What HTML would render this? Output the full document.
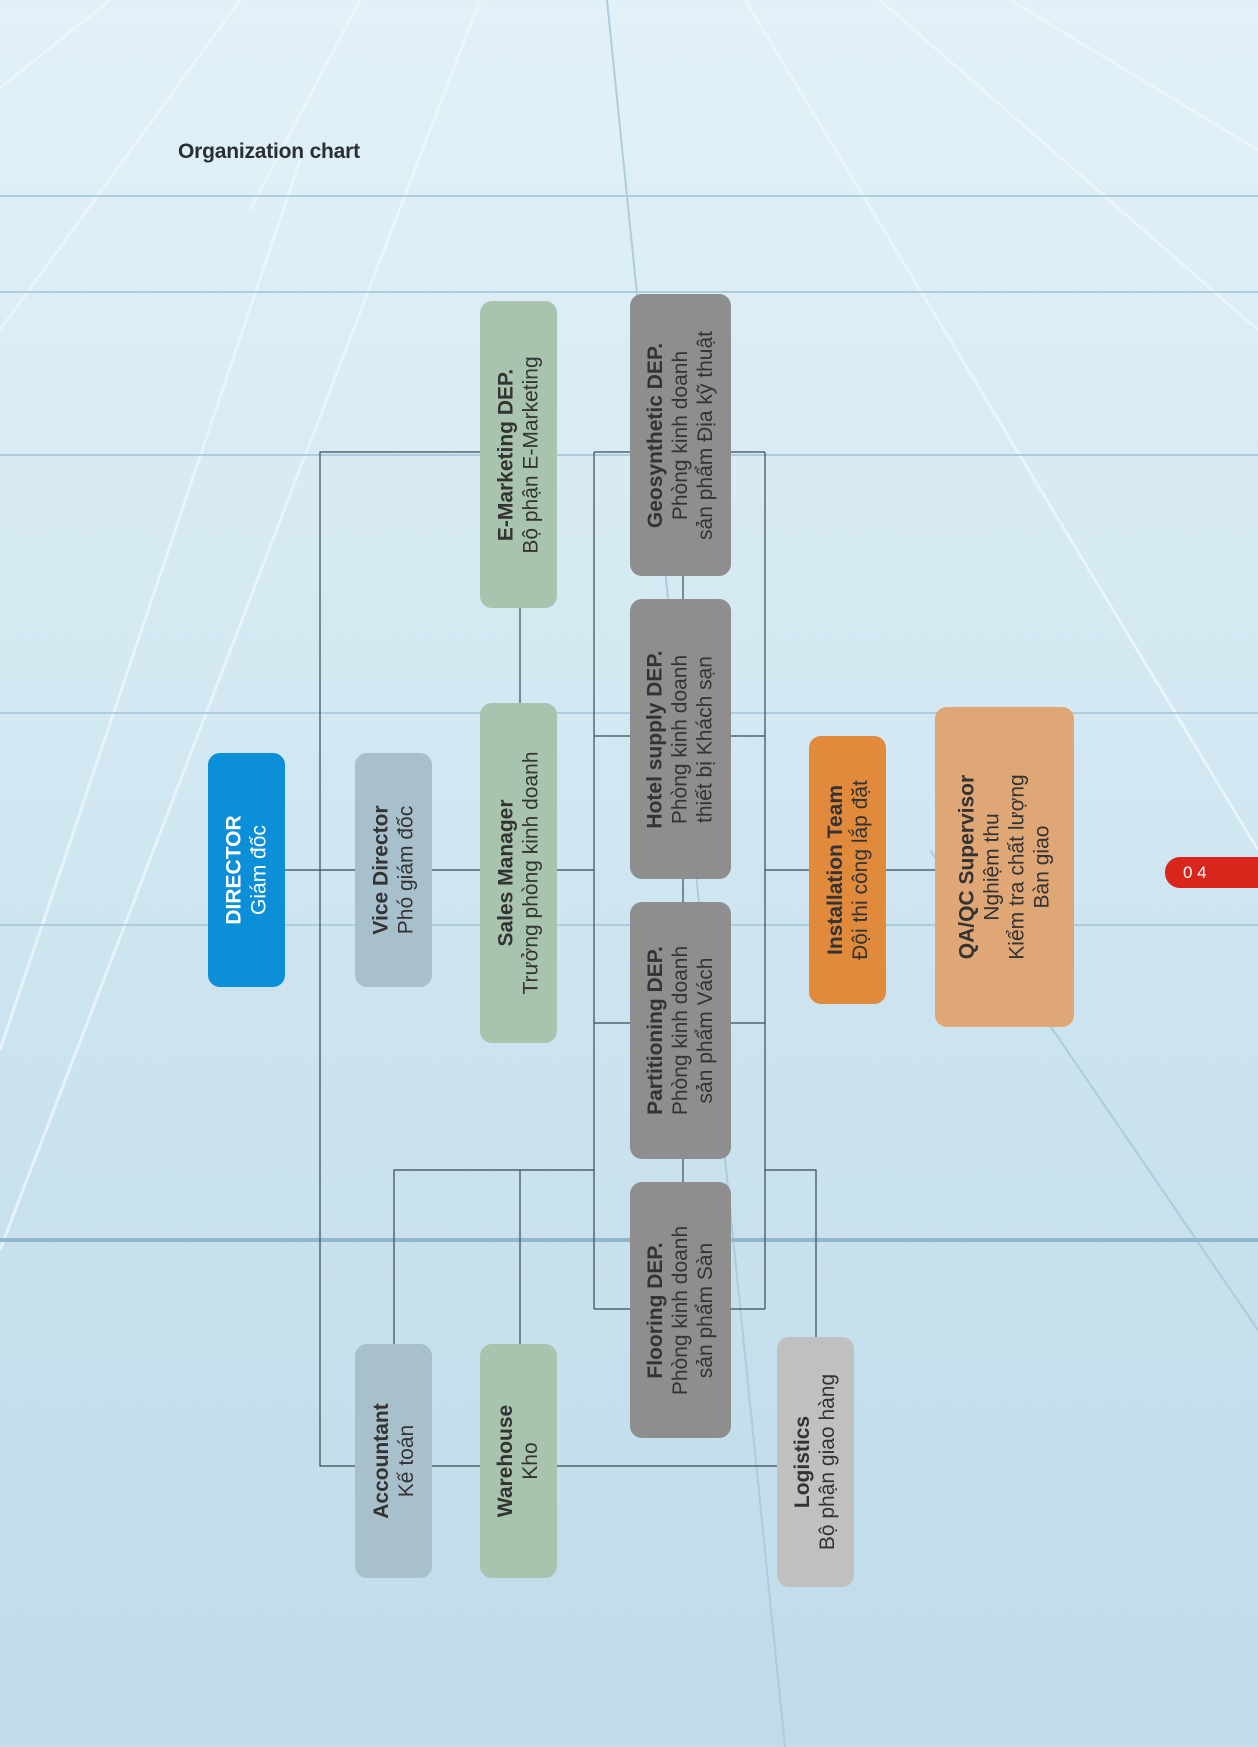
<!DOCTYPE html>
<html><head><meta charset="utf-8">
<style>
html,body{margin:0;padding:0}
body{width:1258px;height:1747px;position:relative;overflow:hidden;
background:linear-gradient(180deg,#e2f1f8 0%,#d3e8f2 40%,#c6e0ec 75%,#c0dcea 100%);
font-family:"Liberation Sans",sans-serif;}
svg.bg,svg.ln{position:absolute;left:0;top:0}
.b{position:absolute;border-radius:12px;display:flex;align-items:center;justify-content:center;color:#333}
.b span{display:block;transform:rotate(-90deg);white-space:nowrap;text-align:center;font-size:21px;line-height:25px}
.b b{font-weight:bold}
.title{position:absolute;left:178px;top:140px;font-size:21px;font-weight:bold;color:#2b2f33;letter-spacing:-0.2px}
.tab{position:absolute;left:1165px;top:857px;width:110px;height:31px;background:#d9261c;border-radius:15px 0 0 15px;color:#fff;font-size:17px;line-height:31px;padding-left:18px;box-sizing:border-box}
</style></head><body>
<svg class="bg" width="1258" height="1747">
<g stroke="#eef7fb" stroke-width="3" fill="none" opacity="0.8">
<line x1="110" y1="0" x2="-40" y2="120"/>
<line x1="240" y1="0" x2="0" y2="330"/>
<line x1="360" y1="0" x2="250" y2="210"/>
<line x1="480" y1="0" x2="0" y2="1250"/>
<line x1="745" y1="0" x2="1258" y2="850"/>
<line x1="880" y1="0" x2="1258" y2="330"/>
<line x1="1010" y1="0" x2="1258" y2="150"/>
<line x1="300" y1="160" x2="0" y2="1050"/>
</g>
<g stroke="#a9cadb" stroke-width="2" fill="none" opacity="0.9">
<line x1="0" y1="713" x2="1258" y2="713"/>
<line x1="0" y1="925" x2="1258" y2="925"/>
<line x1="0" y1="292" x2="1258" y2="292"/>
<line x1="0" y1="196" x2="1258" y2="196"/>
<line x1="0" y1="455" x2="1258" y2="455"/>
<line x1="607" y1="0" x2="785" y2="1747"/>
<line x1="930" y1="850" x2="1258" y2="1330"/>
</g>
<line x1="0" y1="1240" x2="1258" y2="1240" stroke="#8fb8cf" stroke-width="4"/>
</svg>
<div class="title">Organization chart</div>
<svg class="ln" width="1258" height="1747">
<g stroke="#3a4a52" stroke-width="1.2" fill="none">
<line x1="285" y1="870" x2="594" y2="870"/>
<line x1="765" y1="870" x2="935" y2="870"/>
<polyline points="480,452 320,452 320,1466 355,1466"/>
<line x1="432" y1="1466" x2="480" y2="1466"/>
<line x1="557" y1="1466" x2="777" y2="1466"/>
<line x1="520" y1="608" x2="520" y2="703"/>
<line x1="594" y1="452" x2="594" y2="1309"/>
<line x1="765" y1="452" x2="765" y2="1309"/>
<line x1="594" y1="452" x2="630" y2="452"/><line x1="594" y1="736" x2="630" y2="736"/>
<line x1="594" y1="1023" x2="630" y2="1023"/><line x1="594" y1="1309" x2="630" y2="1309"/>
<line x1="731" y1="452" x2="765" y2="452"/><line x1="731" y1="736" x2="765" y2="736"/>
<line x1="731" y1="1023" x2="765" y2="1023"/><line x1="731" y1="1309" x2="765" y2="1309"/>
<line x1="683" y1="576" x2="683" y2="599"/><line x1="683" y1="879" x2="683" y2="902"/>
<line x1="683" y1="1159" x2="683" y2="1182"/>
<polyline points="594,1170 394,1170 394,1344"/>
<line x1="520" y1="1170" x2="520" y2="1344"/>
<polyline points="765,1170 816,1170 816,1337"/>
</g></svg>

<div class="b" style="left:208px;top:753px;width:77px;height:234px;background:#0a8fd8;color:#fff"><span><b>DIRECTOR</b><br>Giám đốc</span></div>
<div class="b" style="left:355px;top:753px;width:77px;height:234px;background:#a8bfcc"><span><b>Vice Director</b><br>Phó giám đốc</span></div>
<div class="b" style="left:480px;top:703px;width:77px;height:340px;background:#a8c4ae"><span><b>Sales Manager</b><br>Trưởng phòng kinh doanh</span></div>
<div class="b" style="left:480px;top:301px;width:77px;height:307px;background:#a8c4ae"><span><b>E-Marketing DEP.</b><br>Bộ phận E-Marketing</span></div>
<div class="b" style="left:630px;top:294px;width:101px;height:282px;background:#8e8e8e"><span><b>Geosynthetic DEP.</b><br>Phòng kinh doanh<br>sản phẩm Địa kỹ thuật</span></div>
<div class="b" style="left:630px;top:599px;width:101px;height:280px;background:#8e8e8e"><span><b>Hotel supply DEP.</b><br>Phòng kinh doanh<br>thiết bị Khách sạn</span></div>
<div class="b" style="left:630px;top:902px;width:101px;height:257px;background:#8e8e8e"><span><b>Partitioning DEP.</b><br>Phòng kinh doanh<br>sản phẩm Vách</span></div>
<div class="b" style="left:630px;top:1182px;width:101px;height:256px;background:#8e8e8e"><span><b>Flooring DEP.</b><br>Phòng kinh doanh<br>sản phẩm Sàn</span></div>
<div class="b" style="left:809px;top:736px;width:77px;height:268px;background:#e28a3c"><span><b>Installation Team</b><br>Đội thi công lắp đặt</span></div>
<div class="b" style="left:935px;top:707px;width:139px;height:320px;background:#dfa676"><span><b>QA/QC Supervisor</b><br>Nghiệm thu<br>Kiểm tra chất lượng<br>Bàn giao</span></div>
<div class="b" style="left:355px;top:1344px;width:77px;height:234px;background:#a8bfcc"><span><b>Accountant</b><br>Kế toán</span></div>
<div class="b" style="left:480px;top:1344px;width:77px;height:234px;background:#a8c4ae"><span><b>Warehouse</b><br>Kho</span></div>
<div class="b" style="left:777px;top:1337px;width:77px;height:250px;background:#c0c0c0"><span><b>Logistics</b><br>Bộ phận giao hàng</span></div>
<div class="tab">0 4</div>
</body></html>
